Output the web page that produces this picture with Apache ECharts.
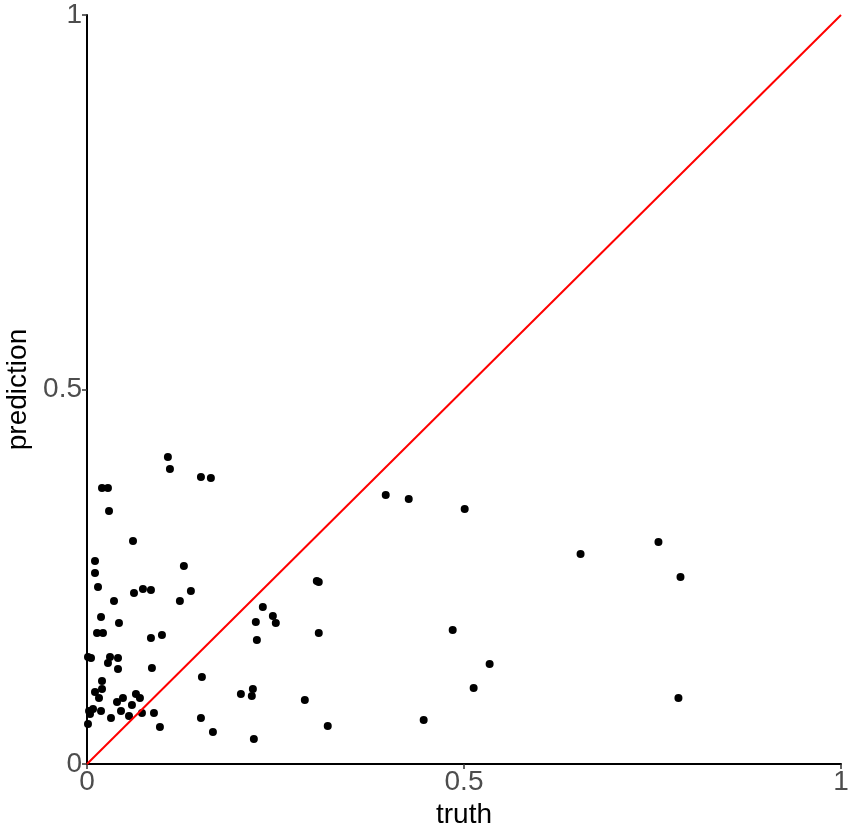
<!DOCTYPE html>
<html>
<head>
<meta charset="utf-8">
<script src="https://cdn.jsdelivr.net/npm/echarts@6/dist/echarts.min.js"></script>
<style>html,body{margin:0;padding:0;background:#fff}#c{width:851px;height:831px}</style>
</head>
<body>
<div id="c"></div>
<script>
const truth = [0.1073,0.1100,0.1511,0.1643,0.0199,0.0278,0.0292,0.0610,0.0106,0.0106,
0.1285,0.0146,0.0623,0.0742,0.0848,0.1232,0.1378,0.0358,0.0186,0.0424,
0.0133,0.0212,0.0848,0.0994,0.0013,0.0053,0.0305,0.0411,0.0278,0.0411,
0.0861,0.1524,0.0199,0.0106,0.0199,0.0159,0.0398,0.0477,0.0649,0.0702,
0.0596,0.0027,0.0080,0.0040,0.0186,0.0451,0.0318,0.0557,0.0729,0.0888,
0.0967,0.0013,0.1511,0.1670,0.2041,0.2200,0.2186,0.2213,0.2332,0.2465,
0.2239,0.2504,0.2253,0.3048,0.3074,0.3074,0.2889,0.3193,0.3962,0.4267,
0.5009,0.6546,0.7579,0.7871,0.4850,0.5340,0.5128,0.4465,0.7844];
const prediction = [0.4099,0.3939,0.3832,0.3818,0.3685,0.3685,0.3378,0.2977,0.2710,0.2550,
0.2644,0.2363,0.2283,0.2336,0.2323,0.2176,0.2310,0.2176,0.1963,0.1883,
0.1749,0.1749,0.1682,0.1722,0.1429,0.1415,0.1429,0.1415,0.1348,0.1268,
0.1282,0.1162,0.1108,0.0961,0.1001,0.0881,0.0828,0.0881,0.0935,0.0881,
0.0788,0.0708,0.0734,0.0668,0.0708,0.0708,0.0614,0.0641,0.0681,0.0681,
0.0494,0.0534,0.0614,0.0427,0.0935,0.1001,0.0908,0.0334,0.2096,0.1976,
0.1896,0.1883,0.1656,0.2443,0.2430,0.1749,0.0854,0.0507,0.3591,0.3538,
0.3405,0.2804,0.2964,0.2497,0.1789,0.1335,0.1015,0.0587,0.0881];
const identityLine = [[0,0],[1,1]];
const tickValues = [0, 0.5, 1];
const tickLabels = ['0', '0.5', '1'];

const points = truth.map((t, i) => [t, prediction[i]]);
const fmt = v => { const i = tickValues.indexOf(+v.toFixed(2)); return i >= 0 ? tickLabels[i] : ''; };

const chart = echarts.init(document.getElementById('c'), null, {renderer: 'canvas'});
chart.setOption({
  animation: false,
  grid: {left: 87, right: 10, top: 15, bottom: 67, containLabel: false, outerBoundsMode: 'none'},
  xAxis: {
    type: 'value', min: 0, max: 1, interval: 0.5,
    name: 'truth', nameLocation: 'middle', nameGap: 37,
    nameTextStyle: {color: '#000', fontSize: 28, fontFamily: 'Liberation Sans'},
    axisLine: {lineStyle: {color: '#000', width: 2}},
    axisTick: {show: true, length: 5, lineStyle: {color: '#333', width: 1.5}},
    axisLabel: {color: '#4d4d4d', fontSize: 28, fontFamily: 'Liberation Sans', margin: 4, formatter: fmt},
    splitLine: {show: false}
  },
  yAxis: {
    type: 'value', min: 0, max: 1, interval: 0.5,
    name: 'prediction', nameLocation: 'middle', nameGap: 52,
    nameTextStyle: {color: '#000', fontSize: 28, fontFamily: 'Liberation Sans'},
    axisLine: {lineStyle: {color: '#000', width: 2}},
    axisTick: {show: true, length: 5, lineStyle: {color: '#333', width: 1.5}},
    axisLabel: {color: '#4d4d4d', fontSize: 28, fontFamily: 'Liberation Sans', margin: 5, formatter: fmt},
    splitLine: {show: false}
  },
  series: [
    {type: 'scatter', data: points, symbolSize: 8, itemStyle: {color: '#000', opacity: 1}, z: 2},
    {type: 'line', data: identityLine, showSymbol: false, symbol: 'none',
     lineStyle: {color: '#ff0000', width: 2}, z: 3}
  ]
});
</script>
</body>
</html>
